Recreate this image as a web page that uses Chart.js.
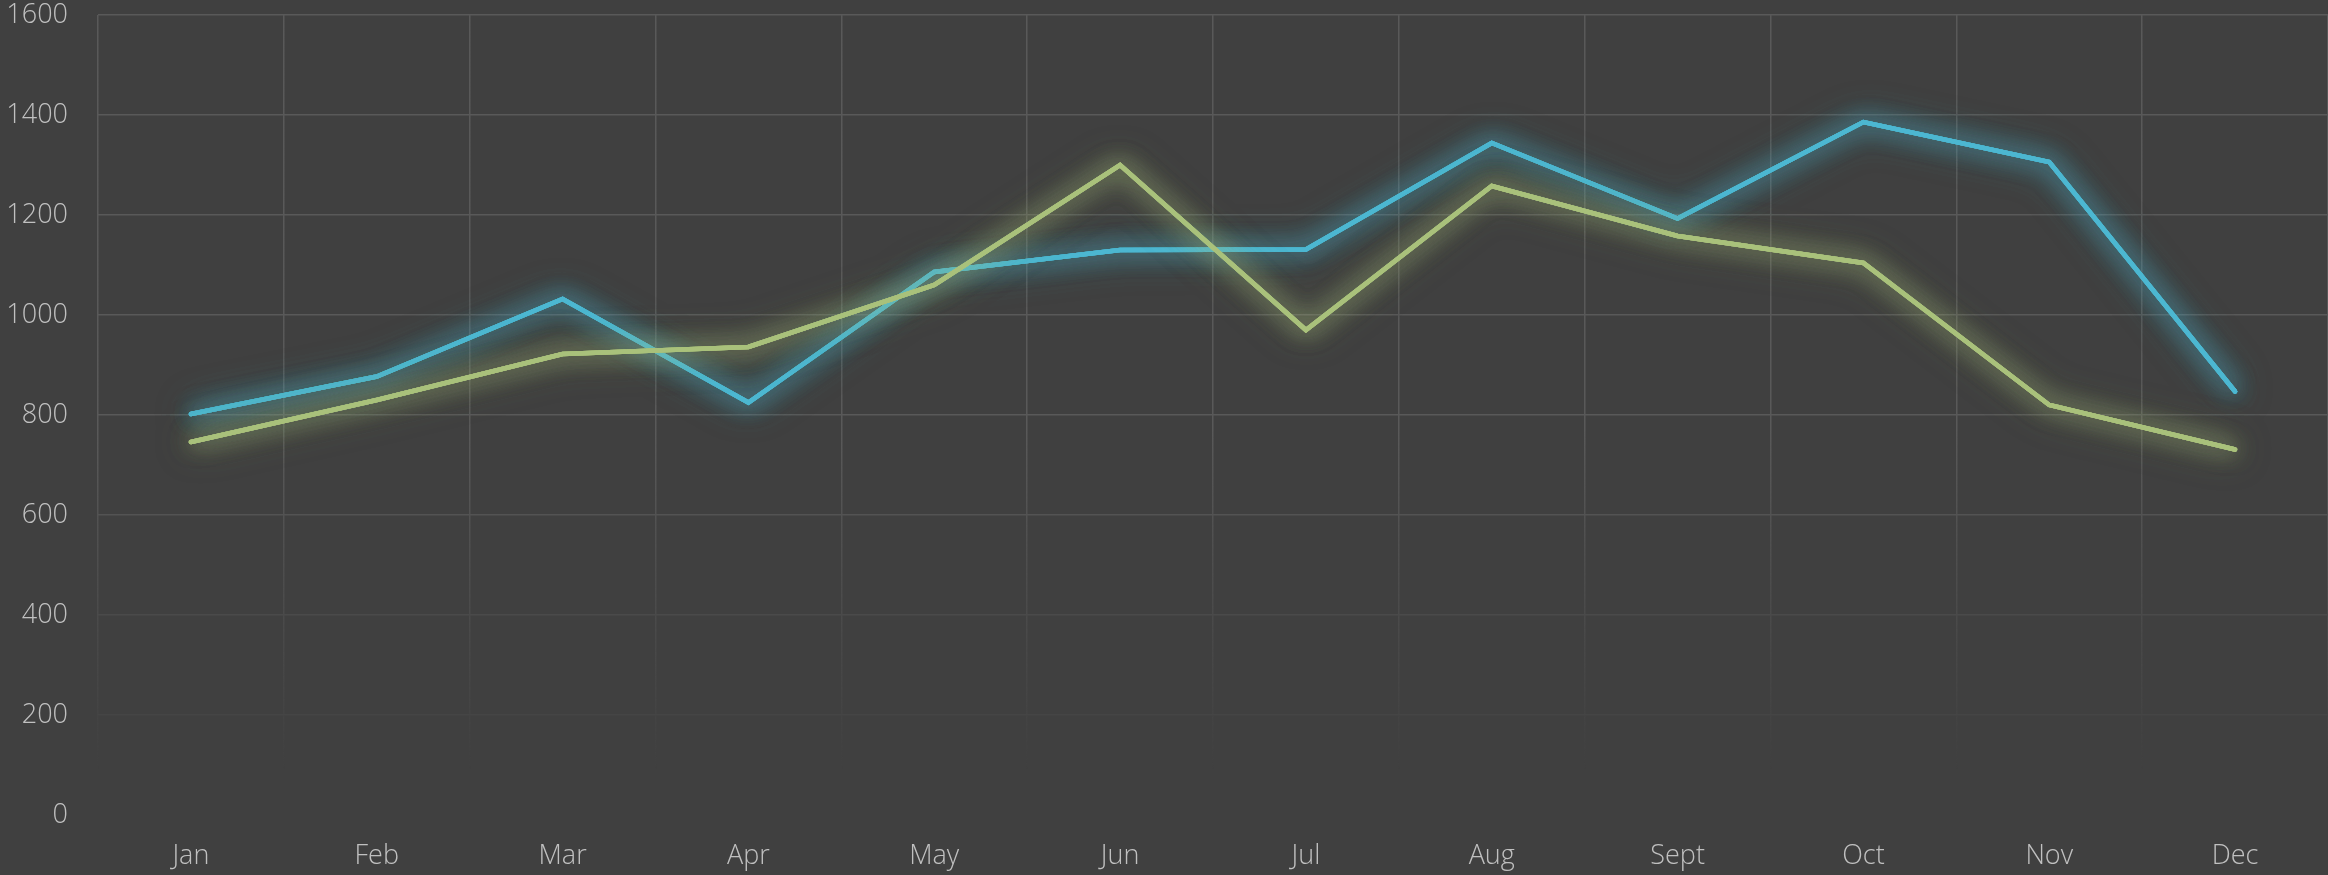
<!DOCTYPE html>
<html>
<head>
<meta charset="utf-8">
<script src="https://cdn.jsdelivr.net/npm/chart.js@4.4.1/dist/chart.umd.min.js"></script>
<style>
  html, body { margin: 0; padding: 0; background: #404040; }
  #wrap { width: 2328px; height: 875px; position: relative; }
</style>
</head>
<body>
<div id="wrap"><canvas id="c"></canvas></div>
<script>
const categories = ['Jan', 'Feb', 'Mar', 'Apr', 'May', 'Jun', 'Jul', 'Aug', 'Sept', 'Oct', 'Nov', 'Dec'];
const seriesBlue = [802, 877, 1032, 825, 1086, 1130, 1131, 1344, 1193, 1386, 1306, 847];
const seriesGreen = [746, 830, 922, 936, 1060, 1300, 970, 1258, 1158, 1104, 820, 731];
const yTicks = [0, 200, 400, 600, 800, 1000, 1200, 1400, 1600];

const BLUE = '#4cb7d1';
const GREEN = '#a9c17b';
const GRID = '#595959';

const glowPlugin = {
  id: 'glow',
  beforeDatasetDraw(chart, args) {
    const ds = chart.data.datasets[args.index];
    const ctx = chart.ctx;
    const meta = chart.getDatasetMeta(args.index);
    ctx.save();
    ctx.shadowColor = ds.glowColor;
    ctx.shadowOffsetX = 0;
    ctx.shadowOffsetY = 0;
    ctx.shadowBlur = 36;
    meta.dataset.draw(ctx, chart.chartArea);
    meta.dataset.draw(ctx, chart.chartArea);
    ctx.shadowBlur = 22;
    meta.dataset.draw(ctx, chart.chartArea);
  },
  afterDatasetDraw(chart) {
    chart.ctx.restore();
  }
};

let vGrad = null;
function verticalGridColor(context) {
  const chart = context.chart;
  if (!vGrad) {
    vGrad = chart.ctx.createLinearGradient(0, 430, 0, 770);
    vGrad.addColorStop(0, 'rgba(89,89,89,1)');
    vGrad.addColorStop(0.45, 'rgba(89,89,89,0.5)');
    vGrad.addColorStop(1, 'rgba(89,89,89,0)');
  }
  return vGrad;
}
function horizontalGridColor(context) {
  const v = context.tick ? context.tick.value : 0;
  if (v >= 800) return GRID;
  if (v === 600) return '#535353';
  if (v === 400) return '#4a4a4a';
  if (v === 200) return '#454545';
  return 'rgba(0,0,0,0)';
}

new Chart(document.getElementById('c'), {
  type: 'line',
  data: {
    labels: categories,
    datasets: [
      {
        label: 'Series 1',
        data: seriesBlue,
        borderColor: BLUE,
        glowColor: 'rgba(76,183,209,0.6)',
        borderWidth: 4.5,
        borderCapStyle: 'round',
        borderJoinStyle: 'miter',
        pointRadius: 0,
        pointHoverRadius: 0,
        tension: 0,
        fill: false,
        order: 1
      },
      {
        label: 'Series 2',
        data: seriesGreen,
        borderColor: GREEN,
        glowColor: 'rgba(169,193,123,0.55)',
        borderWidth: 4.5,
        borderCapStyle: 'round',
        borderJoinStyle: 'miter',
        pointRadius: 0,
        pointHoverRadius: 0,
        tension: 0,
        fill: false,
        order: 0
      }
    ]
  },
  options: {
    responsive: true,
    maintainAspectRatio: false,
    animation: false,
    layout: { padding: { top: 15, right: 0, bottom: 0, left: 0 } },
    plugins: {
      legend: { display: false },
      tooltip: { enabled: false },
      title: { display: false }
    },
    scales: {
      x: {
        type: 'category',
        offset: true,
        border: { display: false },
        grid: {
          offset: true,
          drawTicks: false,
          lineWidth: 1.5,
          color: verticalGridColor
        },
        ticks: {
          color: '#c0c0c0',
          padding: 25,
          maxRotation: 0,
          autoSkip: false,
          font: { family: "'Open Sans', sans-serif", size: 27, weight: 300 }
        },
        afterFit(scale) { scale.height = 60; scale.paddingLeft = 0; scale.paddingRight = 0; }
      },
      y: {
        min: 0,
        max: 1600,
        border: { display: false },
        grid: {
          drawTicks: false,
          lineWidth: 1.5,
          color: horizontalGridColor
        },
        afterBuildTicks(scale) {
          scale.ticks = yTicks.map(v => ({ value: v }));
        },
        ticks: {
          color: '#c0c0c0',
          padding: 30,
          callback: (v) => String(v),
          font: { family: "'Open Sans', sans-serif", size: 27, weight: 300 }
        },
        afterFit(scale) { scale.width = 98; scale.paddingTop = 0; scale.paddingBottom = 0; }
      }
    }
  },
  plugins: [glowPlugin]
});
</script>
</body>
</html>
